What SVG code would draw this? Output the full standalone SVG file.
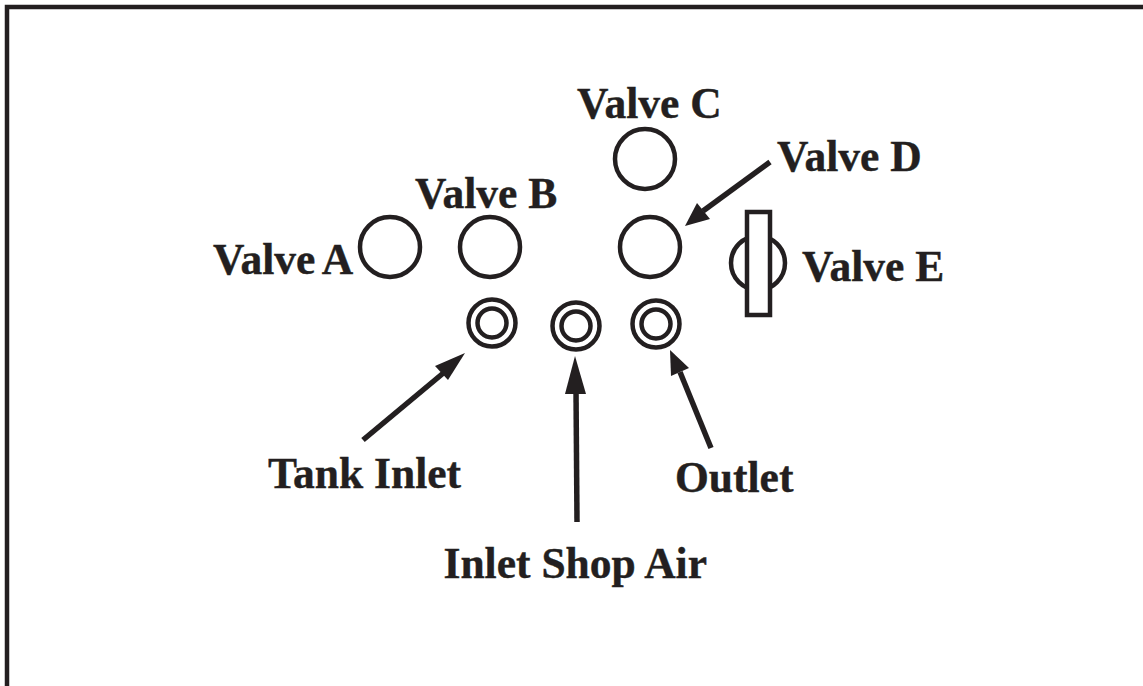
<svg xmlns="http://www.w3.org/2000/svg" width="1143" height="686" viewBox="0 0 1143 686">
<style>
text{font-family:"Liberation Serif","Times New Roman",serif;font-weight:bold;font-size:43.5px;fill:#231f20;stroke:#231f20;stroke-width:.4}
.c{fill:none;stroke:#231f20;stroke-width:4.5}
.l{stroke:#231f20;stroke-width:5.5;fill:none}
.h{fill:#231f20}
</style>
<rect width="1143" height="686" fill="#fff"/>
<path d="M7 686V7H1143" fill="none" stroke="#231f20" stroke-width="4.5"/>
<g id="connectors">
<path class="l" d="M363 440L447 370"/><polygon class="h" points="465,353 435,366 448,380"/>
<path class="l" d="M577 522L576 390"/><polygon class="h" points="575,356 565,394 586,394"/>
<path class="l" d="M711 448L680 372"/><polygon class="h" points="670,350 671,376 689,368"/>
<path class="l" d="M770 162L703 211"/><polygon class="h" points="685,226 697,203 710,219"/>
</g>
<g id="valve-a"><circle class="c" cx="390" cy="247" r="30"/><text x="213" y="273.5">Valve <tspan dx="-2">A</tspan></text></g>
<g id="valve-b"><circle class="c" cx="490" cy="247" r="30"/><text x="415" y="207.5">Valve B</text></g>
<g id="valve-c"><circle class="c" cx="645" cy="159" r="30"/><text x="577" y="117.5">Valve C</text></g>
<g id="valve-d"><circle class="c" cx="650" cy="247" r="30"/><text x="777" y="170.5">Valve D</text></g>
<g id="valve-e"><circle class="c" cx="758" cy="263" r="27"/><rect x="747" y="212" width="23" height="103" fill="#fff" stroke="#231f20" stroke-width="4.5"/><text x="802" y="280.5">Valve E</text></g>
<g id="tank-inlet"><circle class="c" cx="492" cy="323" r="23.5"/><circle class="c" cx="492" cy="323" r="14.5"/><text x="268" y="487.5">Tank Inlet</text></g>
<g id="inlet-shop-air"><circle class="c" cx="576" cy="326" r="23.5"/><circle class="c" cx="576" cy="326" r="14.5"/><text x="443.5" y="578">Inlet Shop Air</text></g>
<g id="outlet"><circle class="c" cx="656" cy="324" r="23.5"/><circle class="c" cx="656" cy="324" r="14.5"/><text x="675" y="491.5">Outlet</text></g>
</svg>
